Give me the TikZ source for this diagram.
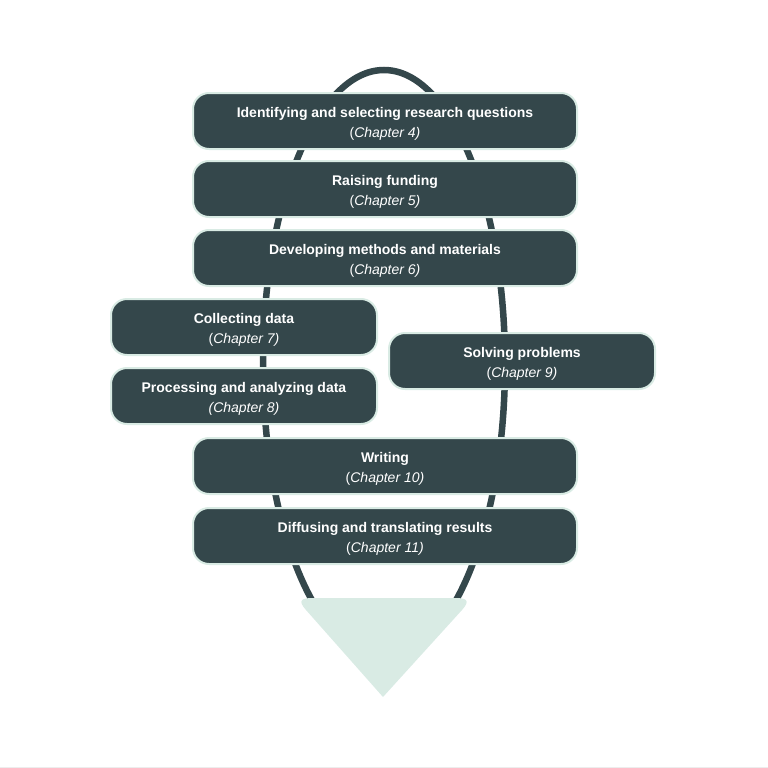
\documentclass[tikz,border=0pt]{standalone}
\usepackage{fontspec}
\setmainfont{Liberation Sans}
\definecolor{slate}{HTML}{34474B}
\definecolor{mint}{HTML}{D9EBE4}
\newcommand{\chap}[1]{(\textit{Chapter #1)}}
\newcommand{\stagetext}[2]{\rule{0pt}{15.3pt}\textbf{#1}\\#2}
\tikzset{
  stage/.style={draw=mint,line width=2pt,fill=slate,rounded corners=16pt,
    text=white,align=center,inner sep=0pt,minimum height=56pt,
    font=\fontsize{14}{20}\selectfont},
  wide/.style={stage,minimum width=384pt},
  narrow/.style={stage,minimum width=266pt}
}
\begin{document}
\begin{tikzpicture}[x=1pt,y=-1pt]
  \useasboundingbox (0,0) rectangle (768,768);
  \fill[black!7] (0,766.5) rectangle (768,768);
  % loop behind the stages
  \draw[slate,line width=6.5pt] (384,364) ellipse [x radius=121pt,y radius=294pt];
  % funnel
  \fill[mint] (383,697) -- (306,610) .. controls (297,600) and (302,598) .. (313,598)
    -- (455,598) .. controls (466,598) and (471,600) .. (462,610) -- cycle;
  % stages
  \node[wide] (questions) at (385,121) {\stagetext{Identifying and selecting research questions}{\chap{4}}};
  \node[wide] (funding) at (385,189) {\stagetext{Raising funding}{\chap{5}}};
  \node[wide] (methods) at (385,258) {\stagetext{Developing methods and materials}{\chap{6}}};
  \node[narrow] (collect) at (244,327) {\stagetext{Collecting data}{\chap{7}}};
  \node[narrow] (process) at (244,396) {\stagetext{Processing and analyzing data}{\textit{(Chapter 8)}}};
  \node[narrow] (problems) at (522,361) {\stagetext{Solving problems}{\chap{9}}};
  \node[wide] (writing) at (385,466) {\stagetext{Writing}{\chap{10}}};
  \node[wide] (diffuse) at (385,536) {\stagetext{Diffusing and translating results}{\chap{11}}};
\end{tikzpicture}
\end{document}
